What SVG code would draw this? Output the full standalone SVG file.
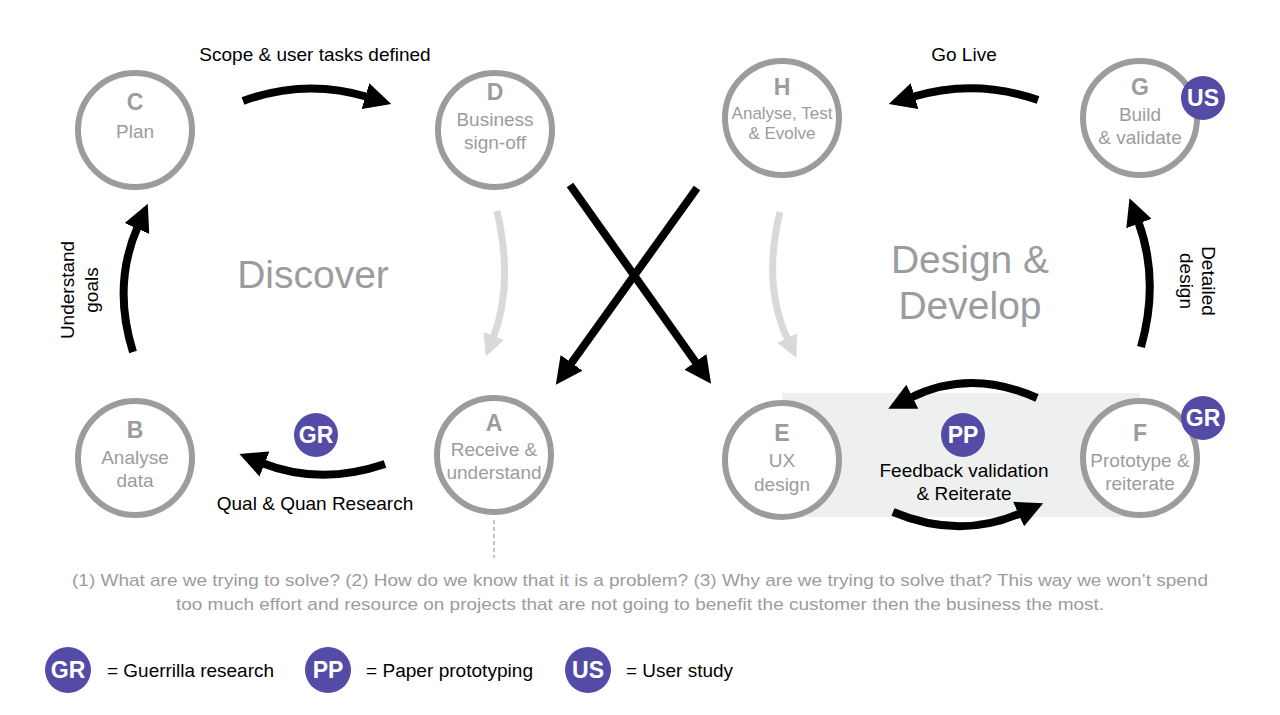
<svg xmlns="http://www.w3.org/2000/svg" width="1280" height="715" viewBox="0 0 1280 715">
<style>
.node{fill:#fff;stroke:#9b9c9e;stroke-width:6}
.let{font-family:"Liberation Sans",Arial,sans-serif;font-weight:bold;font-size:23px;fill:#9b9c9e;text-anchor:middle}
.lab{font-family:"Liberation Sans",Arial,sans-serif;font-size:19px;fill:#9b9c9e;text-anchor:middle}
.lab2{font-family:"Liberation Sans",Arial,sans-serif;font-size:17px;fill:#9b9c9e;text-anchor:middle}
.blk{font-family:"Liberation Sans",Arial,sans-serif;font-size:19px;fill:#000;text-anchor:middle}
.big{font-family:"Liberation Sans",Arial,sans-serif;font-size:39px;fill:#9b9c9e;text-anchor:middle}
.para{font-family:"Liberation Sans",Arial,sans-serif;font-size:17px;fill:#9b9c9e;text-anchor:middle}
.leg{font-family:"Liberation Sans",Arial,sans-serif;font-size:19px;fill:#000}
.badge{fill:#544ba7}
.bt{font-family:"Liberation Sans",Arial,sans-serif;font-weight:bold;font-size:23px;fill:#fff;text-anchor:middle}
.arr{fill:none;stroke:#000;stroke-width:8;marker-end:url(#h)}
.arrg{fill:none;stroke:#d9d9d9;stroke-width:7;marker-end:url(#hg)}
</style>
<defs>
<marker id="h" viewBox="0 0 10 10" refX="1" refY="5" markerWidth="27" markerHeight="27" markerUnits="userSpaceOnUse" orient="auto"><path d="M0,0 L10,5 L0,10 z" fill="#000"/></marker>
<marker id="hg" viewBox="0 0 10 10" refX="1" refY="5" markerWidth="22" markerHeight="22" markerUnits="userSpaceOnUse" orient="auto"><path d="M0,0 L10,5 L0,10 z" fill="#d9d9d9"/></marker>
</defs>
<rect width="1280" height="715" fill="#fff"/>
<rect x="782" y="393" width="358" height="124" fill="#eef0ef"/>

<g id="connectors">
<path class="arr" d="M243,101 Q305,78 368,97"/>
<path class="arr" d="M1038,100 Q975,78 912,97"/>
<path class="arr" d="M133,352 Q112,285 138,226"/>
<path class="arr" d="M1141,347 Q1160,280 1138,221"/>
<path class="arr" d="M385,464 Q320,486 262,463"/>
<path class="arr" d="M1037,398 Q970,368 910,398"/>
<path class="arr" d="M893,512 Q960,540 1021,513"/>
<path class="arr" d="M570,185 L697,364"/>
<path class="arr" d="M697,188 L570,365"/>
<path class="arrg" d="M497,211 Q514,285 493,338"/>
<path class="arrg" d="M780,212 Q762,285 788,340"/>
<line x1="494" y1="520" x2="494" y2="558" stroke="#888" stroke-width="1" stroke-dasharray="4,3"/>
<text class="blk" x="315" y="61">Scope &amp; user tasks defined</text>
<text class="blk" x="964" y="61">Go Live</text>
<text class="blk" x="315" y="510">Qual &amp; Quan Research</text>
<text class="blk" transform="translate(80,290) rotate(-90)"><tspan x="0" y="-6">Understand</tspan><tspan x="0" y="18">goals</tspan></text>
<text class="blk" transform="translate(1197,281) rotate(90)"><tspan x="0" y="-5">Detailed</tspan><tspan x="0" y="17">design</tspan></text>
<text class="blk" x="964" y="477">Feedback validation</text>
<text class="blk" x="964" y="500">&amp; Reiterate</text>
</g>

<g id="C"><circle class="node" cx="135" cy="130" r="57"/><text class="let" x="135" y="110">C</text><text class="lab" x="135" y="138">Plan</text></g>
<g id="D"><circle class="node" cx="495" cy="130" r="57"/><text class="let" x="495" y="100">D</text><text class="lab" x="495" y="126">Business</text><text class="lab" x="495" y="149">sign-off</text></g>
<g id="H"><circle class="node" cx="782" cy="118" r="57"/><text class="let" x="782" y="95">H</text><text class="lab2" x="782" y="119">Analyse, Test</text><text class="lab2" x="782" y="139">&amp; Evolve</text></g>
<g id="G"><circle class="node" cx="1140" cy="118" r="57"/><text class="let" x="1140" y="95">G</text><text class="lab" x="1140" y="121">Build</text><text class="lab" x="1140" y="144">&amp; validate</text></g>
<g id="B"><circle class="node" cx="135" cy="458" r="57"/><text class="let" x="135" y="438">B</text><text class="lab" x="135" y="464">Analyse</text><text class="lab" x="135" y="487">data</text></g>
<g id="A"><circle class="node" cx="494" cy="455" r="57"/><text class="let" x="494" y="431">A</text><text class="lab" x="494" y="456">Receive &amp;</text><text class="lab" x="494" y="479">understand</text></g>
<g id="E"><circle class="node" cx="782" cy="460" r="57"/><text class="let" x="782" y="441">E</text><text class="lab" x="782" y="467">UX</text><text class="lab" x="782" y="491">design</text></g>
<g id="F"><circle class="node" cx="1140" cy="458" r="57"/><text class="let" x="1140" y="441">F</text><text class="lab" x="1140" y="467">Prototype &amp;</text><text class="lab" x="1140" y="490">reiterate</text></g>

<g id="badge-US-G"><circle class="badge" cx="1203" cy="98" r="22"/><text class="bt" x="1203" y="106">US</text></g>
<g id="badge-GR-F"><circle class="badge" cx="1203" cy="418" r="22"/><text class="bt" x="1203" y="426">GR</text></g>
<g id="badge-GR-AB"><circle class="badge" cx="316" cy="435" r="22"/><text class="bt" x="316" y="443">GR</text></g>
<g id="badge-PP"><circle class="badge" cx="963" cy="435" r="22"/><text class="bt" x="963" y="443">PP</text></g>

<text class="big" x="313" y="288">Discover</text>
<text class="big" x="970" y="273">Design &amp;</text>
<text class="big" x="970" y="319">Develop</text>

<text class="para" x="640" y="586" textLength="1136" lengthAdjust="spacingAndGlyphs">(1) What are we trying to solve? (2) How do we know that it is a problem? (3) Why are we trying to solve that? This way we won’t spend</text>
<text class="para" x="640" y="610" textLength="928" lengthAdjust="spacingAndGlyphs">too much effort and resource on projects that are not going to benefit the customer then the business the most.</text>

<g id="legend">
<circle class="badge" cx="68" cy="670" r="23"/><text class="bt" x="68" y="678">GR</text>
<text class="leg" x="107" y="677" textLength="167" lengthAdjust="spacingAndGlyphs">= Guerrilla research</text>
<circle class="badge" cx="328" cy="670" r="23"/><text class="bt" x="328" y="678">PP</text>
<text class="leg" x="366" y="677" textLength="167" lengthAdjust="spacingAndGlyphs">= Paper prototyping</text>
<circle class="badge" cx="588" cy="670" r="23"/><text class="bt" x="588" y="678">US</text>
<text class="leg" x="626" y="677" textLength="107" lengthAdjust="spacingAndGlyphs">= User study</text>
</g>
</svg>
